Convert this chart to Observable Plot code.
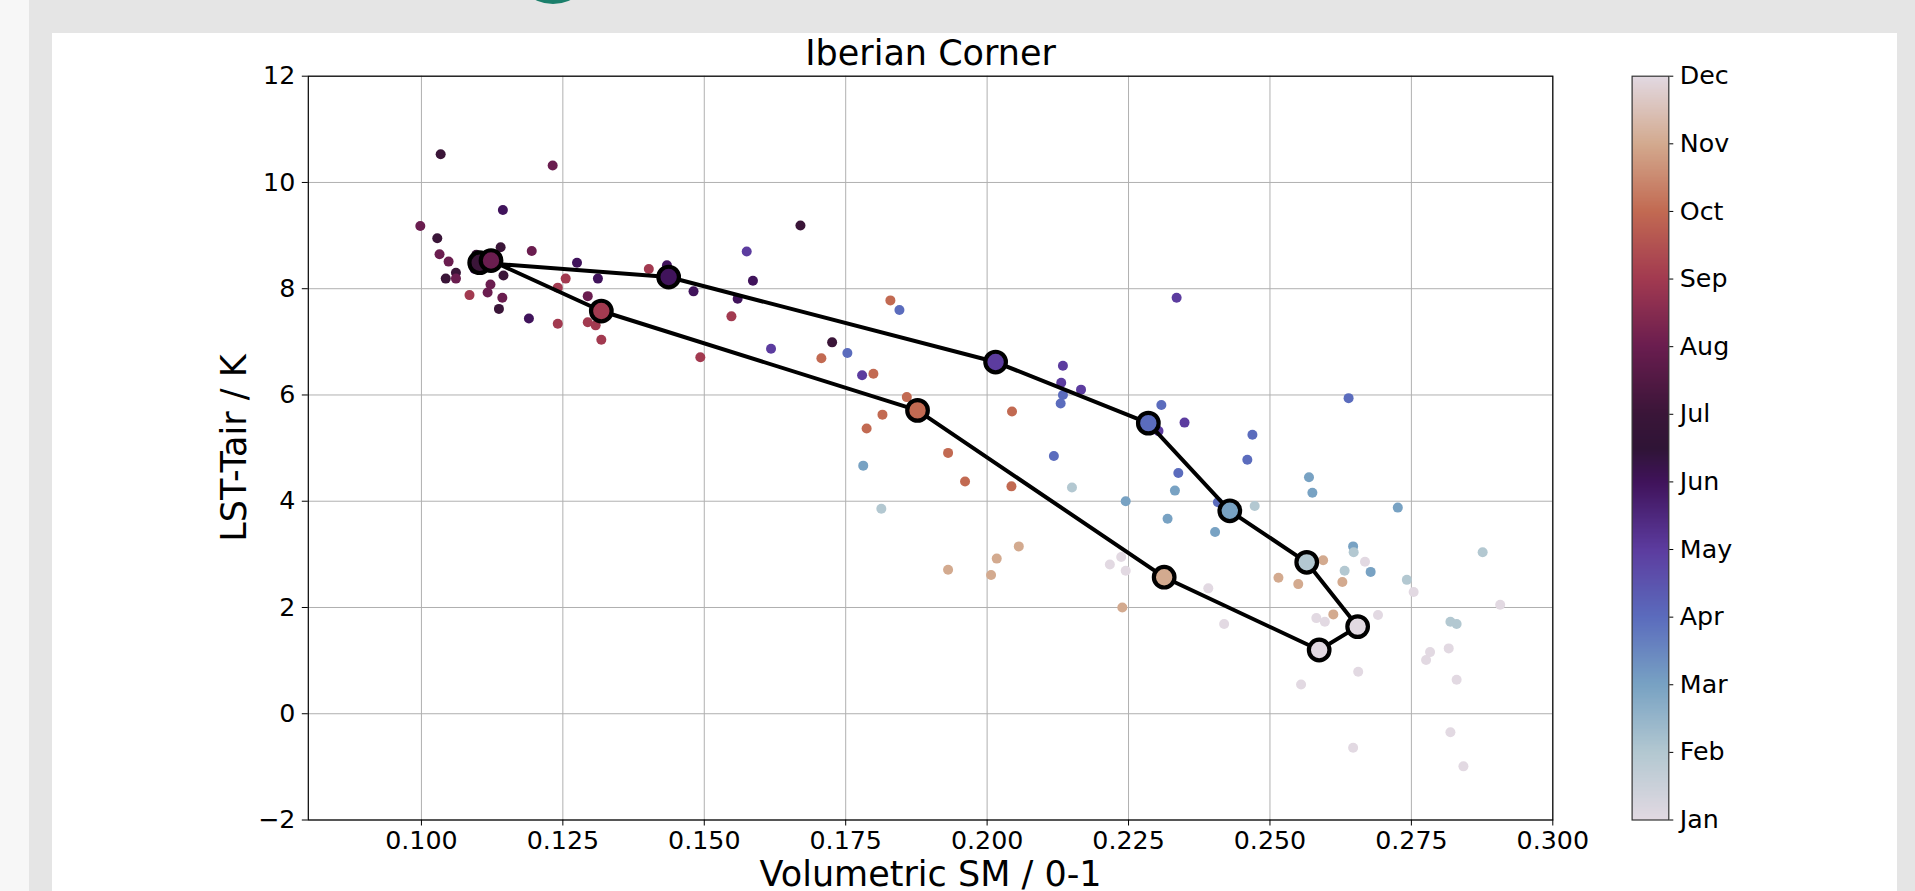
<!DOCTYPE html>
<html>
<head>
<meta charset="utf-8">
<script src="https://cdn.jsdelivr.net/npm/d3@7"></script>
<script src="https://cdn.jsdelivr.net/npm/@observablehq/plot@0.6"></script>
<style>
html,body{margin:0;padding:0;}
body{width:1915px;height:891px;overflow:hidden;background:#f7f7f7;position:relative;font-family:"DejaVu Sans",sans-serif;}
#gray{position:absolute;left:29px;top:0;width:1886px;height:891px;background:#e5e5e5;}
#logo{position:absolute;left:513px;top:-76px;width:80px;height:80px;border-radius:50%;background:#1b7f6b;}
#panel{position:absolute;left:52px;top:33px;width:1845px;height:858px;background:#fff;}
#main{position:absolute;left:52px;top:33px;}
#cbar{position:absolute;left:1600px;top:33px;}
</style>
</head>
<body>
<div id="gray"></div>
<div id="logo"></div>
<div id="panel"></div>
<div id="main"></div>
<div id="cbar"></div>
<script>
// ---- Data ----
const monthNames = ["Jan","Feb","Mar","Apr","May","Jun","Jul","Aug","Sep","Oct","Nov","Dec"];
const xTicks = [0.100, 0.125, 0.150, 0.175, 0.200, 0.225, 0.250, 0.275, 0.300];
const yTicks = [-2, 0, 2, 4, 6, 8, 10, 12];
const monthTicks = [1,2,3,4,5,6,7,8,9,10,11,12];

// monthly means (Jan..Dec)
const meanSM = [0.2655, 0.2565, 0.2429, 0.2285, 0.2015, 0.1437, 0.1103, 0.1123, 0.1318, 0.1877, 0.2313, 0.2587];
const meanDT = [1.64, 2.85, 3.82, 5.47, 6.62, 8.22, 8.49, 8.53, 7.58, 5.71, 2.57, 1.20];

// individual points
const pointMonth = [
  7,8,8,6,7,8,8,7,7,8,9,8,8,8,7,7,7,7,6,6,8,6,9,9,9,8,6,9,9,9,9,6,6,9,9,6,5,6,5,
  7,10,4,7,4,10,5,10,10,10,10,3,2,10,10,10,10,5,5,4,4,5,4,2,3,4,5,5,5,4,3,3,3,4,4,4,2,
  3,3,4,3,2,2,11,11,12,12,12,3,12,3,11,11,2,12,2,12,12,12,12,12,11,12,2,2,1,1,1,1,1,1,1,1,1,
  11,11,11,11,11
];
const pointSM = [
  0.1034,0.1232,0.0998,0.1144,0.1028,0.1032,0.1048,0.1061,0.1043,0.1061,0.1085,0.1117,0.1122,0.1143,0.1137,0.1145,0.1140,0.1097,0.1094,0.1190,0.1195,0.1275,0.1255,0.1241,0.1241,0.1294,0.1312,0.1294,0.1308,0.1318,0.1402,0.1434,0.1481,0.1493,0.1548,0.1559,0.1575,0.1586,0.1618,
  0.1670,0.1829,0.1845,0.1726,0.1753,0.1707,0.1779,0.1799,0.1858,0.1815,0.1787,0.1781,0.1813,0.1931,0.1961,0.2043,0.2044,0.2134,0.2131,0.2134,0.2130,0.2166,0.2118,0.2150,0.2245,0.2308,0.2349,0.2335,0.2303,0.2338,0.2332,0.2319,0.2403,0.2408,0.2469,0.2460,0.2473,
  0.2569,0.2575,0.2639,0.2647,0.2648,0.2632,0.2594,0.2515,0.2237,0.2217,0.2245,0.2726,0.2668,0.2678,0.2550,0.2628,0.2742,0.2754,0.2876,0.2907,0.2391,0.2419,0.2582,0.2597,0.2612,0.2691,0.2819,0.2830,0.2816,0.2783,0.2776,0.2656,0.2830,0.2555,0.2819,0.2647,0.2842,
  0.2056,0.2017,0.1931,0.2007,0.2239
];
const pointDT = [
  10.53,10.32,9.18,9.48,8.95,8.65,8.51,8.30,8.19,8.19,7.88,7.93,8.08,7.83,7.62,8.25,8.78,8.64,8.37,7.44,8.71,8.49,8.19,8.02,7.34,7.86,8.19,7.37,7.31,7.04,8.37,8.44,7.95,6.71,7.48,7.81,8.70,8.15,6.87,
  9.19,7.78,7.60,6.99,6.79,6.69,6.37,6.40,5.96,5.63,5.37,4.67,3.86,4.91,4.37,4.28,5.69,6.55,6.23,6.00,5.84,6.10,4.85,4.26,4.00,5.81,5.48,7.83,5.32,4.53,4.20,3.67,3.42,3.98,5.25,4.78,3.91,
  4.45,4.16,5.94,3.15,3.04,2.69,2.89,2.56,2.95,2.81,2.69,3.88,2.86,2.67,2.44,2.48,2.52,2.29,3.04,2.05,2.36,1.69,1.80,1.73,1.87,1.86,1.73,1.69,1.23,1.16,1.01,0.79,0.64,0.55,-0.35,-0.64,-0.99,
  3.15,2.92,2.71,2.61,2.00
];

// approximate "twilight" colormap stops
const twilightPos = [0, 0.0909, 0.1818, 0.2727, 0.3636, 0.4545, 0.5, 0.5455, 0.6364, 0.7273, 0.8182, 0.9091, 1];
const twilightCol = ["#e2d9e2","#b3c8d1","#78a2c3","#5b6cbd","#5c3c9f","#40135b","#2f1436","#3a1538","#6a1d4f","#a23a50","#c26a52","#d3aa8f","#e2d9e2"];

// ---- Build ----
const twilightScale = d3.scaleLinear().domain(twilightPos).range(twilightCol).interpolate(d3.interpolateRgb).clamp(true);
const twilight = t => twilightScale(t);

const points = pointMonth.map((m, i) => ({month: m, sm: pointSM[i], dt: pointDT[i]}));
const means = meanSM.map((v, i) => ({month: i + 1, sm: v, dt: meanDT[i]}));
const loop = [...means, means[0]];

const colorOpts = {type: "linear", domain: [1, 12], interpolate: twilight};
const font = "'DejaVu Sans', sans-serif";
const tickFont = 25.3;
const labelFont = 35;

const main = Plot.plot({
  width: 1560, height: 858,
  marginLeft: 255.8, marginRight: 59.7, marginTop: 42.7, marginBottom: 71.5,
  style: {fontFamily: font, fontSize: tickFont + "px", color: "#000", background: "transparent", overflow: "visible"},
  x: {domain: [0.08, 0.30]},
  y: {domain: [-2, 12]},
  color: colorOpts,
  marks: [
    Plot.gridX(xTicks, {stroke: "#b0b0b0", strokeOpacity: 1, strokeWidth: 1}),
    Plot.gridY(yTicks, {stroke: "#b0b0b0", strokeOpacity: 1, strokeWidth: 1}),
    Plot.axisX(xTicks, {tickSize: 6, tickPadding: 5, tickFormat: d3.format(".3f"), label: null, fontSize: tickFont}),
    Plot.axisY(yTicks, {tickSize: 6, tickPadding: 7, tickFormat: d3.format("d"), label: null, fontSize: tickFont}),
    Plot.dot(points, {x: "sm", y: "dt", fill: "month", r: 5, stroke: null}),
    Plot.line(loop, {x: "sm", y: "dt", stroke: "black", strokeWidth: 4, curve: "linear"}),
    Plot.dot(means, {x: "sm", y: "dt", fill: "month", r: 10.3, stroke: "black", strokeWidth: 4.2}),
    Plot.frame({stroke: "black", strokeWidth: 1.2}),
    Plot.text(["Iberian Corner"], {frameAnchor: "top", text: d => d, dy: -22, lineAnchor: "middle", fontSize: labelFont}),
    Plot.text(["Volumetric SM / 0-1"], {frameAnchor: "bottom", text: d => d, dy: 55, lineAnchor: "middle", fontSize: labelFont}),
    Plot.text(["LST-Tair / K"], {frameAnchor: "left", text: d => d, dx: -74, rotate: -90, lineAnchor: "middle", textAnchor: "middle", fontSize: labelFont})
  ]
});
document.getElementById("main").appendChild(main);

const cbar = Plot.plot({
  width: 160, height: 858,
  marginLeft: 31.6, marginRight: 91.7, marginTop: 42.7, marginBottom: 71.5,
  style: {fontFamily: font, fontSize: tickFont + "px", color: "#000", background: "transparent", overflow: "visible"},
  x: {domain: [0, 1], axis: null},
  y: {domain: [1, 12]},
  color: colorOpts,
  marks: [
    Plot.raster({x1: 0, x2: 1, y1: 1, y2: 12, width: 2, height: 600, fill: (x, y) => y, imageRendering: "auto"}),
    Plot.frame({stroke: "#333", strokeWidth: 1.2}),
    Plot.axisY(monthTicks, {anchor: "right", tickSize: 4, tickPadding: 7, tickFormat: d => monthNames[d - 1], label: null, fontSize: tickFont})
  ]
});
document.getElementById("cbar").appendChild(cbar);
</script>
</body>
</html>
